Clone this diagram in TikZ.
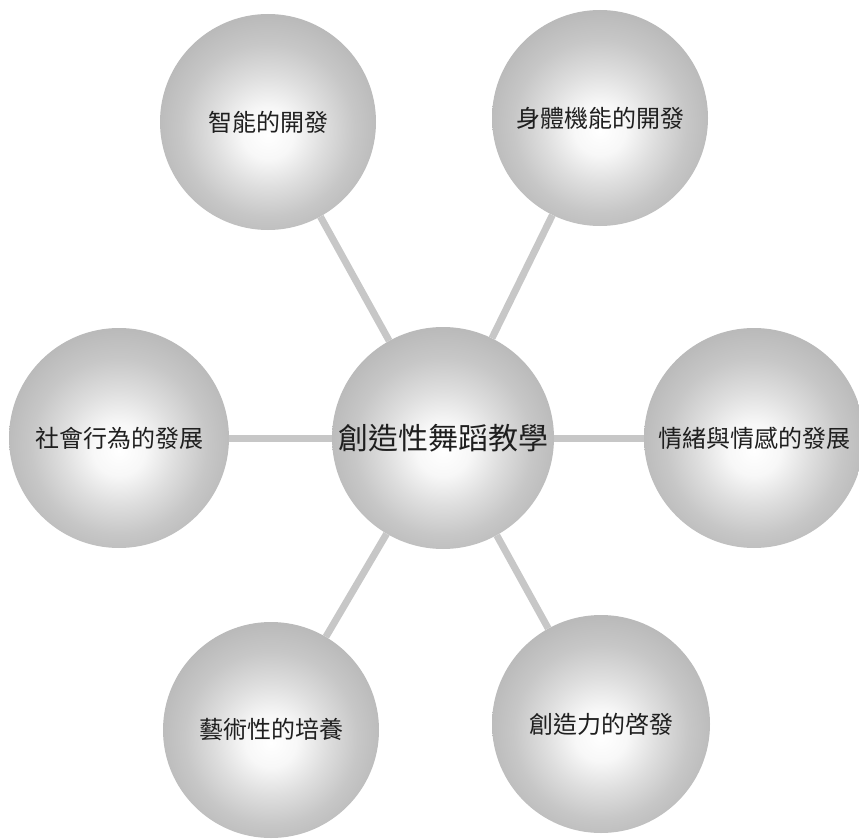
\documentclass[tikz,border=0pt]{standalone}
\usepackage{fontspec}
\newfontfamily\cjk{Noto Sans CJK TC}
\usetikzlibrary{backgrounds}
\pgfdeclareradialshading{ballshade}{\pgfpoint{0bp}{-3bp}}{color(0bp)=(white); color(6bp)=(black!3); color(13bp)=(black!13); color(20bp)=(black!22); color(26bp)=(black!27); color(50bp)=(black!27)}
\begin{document}
\begin{tikzpicture}[x=1pt,y=-1pt,
  ball/.style={circle, shade, shading=ballshade, minimum size=#1, inner sep=0pt,
    font=\cjk\fontsize{24}{24}\selectfont, text=black!88},
  link/.style={draw=black!22, line width=7pt}]
\useasboundingbox (0,0) rectangle (859,840);
\node[ball=216pt] (tl) at (268,122) {智能的開發};
\node[ball=216pt] (tr) at (600,118) {身體機能的開發};
\node[ball=220pt] (l)  at (119,438) {社會行為的發展};
\node[ball=222pt, font=\cjk\fontsize{30}{30}\selectfont] (c) at (443,438) {創造性舞蹈教學};
\node[ball=220pt] (r)  at (754,438) {情緒與情感的發展};
\node[ball=216pt] (bl) at (271,730) {藝術性的培養};
\node[ball=218pt] (br) at (601,724) {創造力的啓發};
\begin{scope}[on background layer]
  \draw[link] (c) -- (tl);
  \draw[link] (c) -- (tr);
  \draw[link] (c) -- (l);
  \draw[link] (c) -- (r);
  \draw[link] (c) -- (bl);
  \draw[link] (c) -- (br);
\end{scope}
\end{tikzpicture}
\end{document}
